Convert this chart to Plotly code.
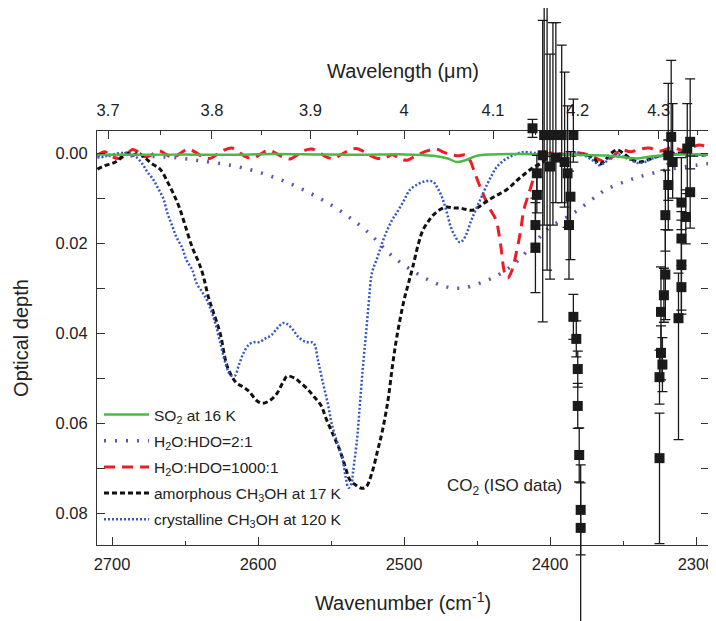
import plotly.graph_objects as go

# ---------------- data ----------------
so2_wn = [2710, 2680, 2650, 2620, 2590, 2560, 2530, 2500, 2480, 2470, 2464, 2458, 2450, 2440, 2420, 2400, 2380, 2360, 2340, 2330, 2310, 2290]
so2_od = [0.0003, 0.0004, 0.0003, 0.0004, 0.0002, 0.0003, 0.0004, 0.0003, 0.0006, 0.0012, 0.0020, 0.0016, 0.0006, 0.0003, 0.0002, 0.0003, 0.0004, 0.0006, 0.0012, 0.0007, 0.0003, 0.0004]

hdo21_wn = [2710, 2690, 2670, 2657, 2640, 2619, 2600, 2581, 2562, 2543, 2525, 2508, 2493, 2480, 2470, 2460, 2447, 2435, 2424, 2412, 2401, 2384, 2372, 2362, 2350, 2339, 2321, 2300, 2290]
hdo21_od = [0.0005, 0.0006, 0.0008, 0.0010, 0.0017, 0.0027, 0.0042, 0.0064, 0.0093, 0.0130, 0.0175, 0.0229, 0.0264, 0.0287, 0.0298, 0.0300, 0.0288, 0.0270, 0.0245, 0.0205, 0.0167, 0.0134, 0.0105, 0.0082, 0.0065, 0.0053, 0.0038, 0.0027, 0.0023]

hdo1000_wn = [2710, 2705, 2700, 2695, 2690, 2686, 2682, 2678, 2673, 2668, 2663, 2658, 2653, 2648, 2643, 2638, 2633, 2628, 2623, 2618,
              2613, 2608, 2603, 2598, 2593, 2588, 2583, 2578, 2573, 2568, 2563, 2558, 2553, 2548, 2543, 2538, 2533, 2528, 2523, 2518,
              2513, 2508, 2503, 2498, 2493, 2488, 2483, 2478, 2473, 2468, 2463, 2458, 2455, 2451, 2446, 2441, 2437, 2434, 2431, 2429,
              2426, 2423, 2420, 2418, 2414, 2411, 2408, 2405, 2400, 2390, 2380, 2372, 2366, 2362, 2357, 2351, 2345, 2338, 2332, 2325,
              2316, 2308, 2298, 2290]
hdo1000_od = [0.0005, -0.0003, 0.0008, 0.0012, 0.0003, -0.0008, -0.0002, 0.0008, 0.0004, -0.0005, 0.0003, 0.0010, 0.0000, -0.0009, -0.0002, 0.0008, 0.0012, 0.0003, -0.0007, -0.0011,
              -0.0002, 0.0009, 0.0011, 0.0002, -0.0006, 0.0000, 0.0009, 0.0013, 0.0004, -0.0006, -0.0009, -0.0001, 0.0009, 0.0012, 0.0003, -0.0005, -0.0010, -0.0004, 0.0006, 0.0012,
              0.0011, 0.0004, 0.0012, 0.0016, 0.0008, 0.0000, -0.0006, -0.0009, -0.0002, 0.0003, 0.0006, 0.0004, 0.0015, 0.0049, 0.0090, 0.0125, 0.0149, 0.0200, 0.0267, 0.0278,
              0.0260, 0.0220, 0.0170, 0.0127, 0.0085, 0.0053, 0.0025, 0.0010, 0.0000, 0.0003, 0.0000, 0.0006, 0.0015, 0.0020, 0.0008, -0.0007, -0.0003, -0.0009, -0.0011, -0.0004,
              -0.0012, -0.0005, -0.0018, -0.0010]

amor_wn = [2710, 2705, 2699, 2695, 2690, 2686, 2682, 2677, 2673, 2667, 2662, 2658, 2654, 2650, 2645, 2641, 2638, 2634, 2631, 2626,
           2621, 2615, 2610, 2606, 2601, 2597, 2592, 2587, 2583, 2580, 2575, 2571, 2566, 2562, 2557, 2553, 2548, 2544, 2540, 2537,
           2533, 2529, 2526, 2522, 2518, 2515, 2511, 2508, 2505, 2500, 2497, 2494, 2490, 2487, 2483, 2480, 2475, 2471, 2466, 2462,
           2458, 2453, 2448, 2442, 2436, 2430, 2425, 2421, 2416, 2412, 2405, 2400, 2395, 2385, 2375, 2370, 2366, 2362, 2358, 2354,
           2350, 2345, 2339, 2333, 2327, 2320, 2310, 2300, 2290]
amor_od = [0.0036, 0.0028, 0.0022, 0.0014, 0.0000, 0.0005, 0.0000, 0.0012, 0.0023, 0.0036, 0.0064, 0.0090, 0.0120, 0.0160, 0.0210, 0.0240, 0.0267, 0.0320, 0.0350, 0.0400,
           0.0475, 0.0510, 0.0520, 0.0530, 0.0550, 0.0556, 0.0550, 0.0534, 0.0510, 0.0496, 0.0500, 0.0510, 0.0525, 0.0540, 0.0560, 0.0593, 0.0630, 0.0660, 0.0700, 0.0727,
           0.0738, 0.0745, 0.0742, 0.0711, 0.0660, 0.0620, 0.0550, 0.0475, 0.0410, 0.0327, 0.0290, 0.0253, 0.0200, 0.0171, 0.0150, 0.0138, 0.0125, 0.0120, 0.0122, 0.0122,
           0.0125, 0.0127, 0.0118, 0.0104, 0.0093, 0.0082, 0.0068, 0.0056, 0.0043, 0.0033, 0.0020, 0.0005, 0.0003, 0.0005, 0.0004, 0.0012, 0.0025, 0.0015, 0.0000, -0.0007,
           0.0000, 0.0012, 0.0020, 0.0015, 0.0008, 0.0003, 0.0000, 0.0005, 0.0003]

cryst_wn = [2710, 2705, 2700, 2692, 2687, 2683, 2679, 2676, 2672, 2669, 2665, 2662, 2659, 2656, 2652, 2649, 2645, 2642, 2638, 2635,
            2630, 2626, 2622, 2619, 2616, 2613, 2610, 2606, 2602, 2599, 2595, 2591, 2587, 2583, 2580, 2576, 2572, 2567, 2562, 2559,
            2556, 2552, 2549, 2545, 2542, 2540, 2538, 2536, 2535, 2532, 2530, 2528, 2526, 2524, 2522, 2518, 2515, 2512, 2508, 2505,
            2500, 2496, 2491, 2487, 2483, 2480, 2477, 2474, 2471, 2468, 2465, 2462, 2460, 2457, 2454, 2451, 2447, 2444, 2440, 2437,
            2433, 2428, 2423, 2419, 2410, 2400, 2390, 2380, 2375, 2370, 2366, 2362, 2358, 2354, 2350, 2345, 2340, 2335, 2330, 2320,
            2310, 2300, 2290]
cryst_od = [0.0010, 0.0008, 0.0003, 0.0000, 0.0003, 0.0010, 0.0025, 0.0041, 0.0058, 0.0075, 0.0100, 0.0134, 0.0160, 0.0186, 0.0210, 0.0238, 0.0260, 0.0290, 0.0310, 0.0327,
            0.0370, 0.0420, 0.0470, 0.0493, 0.0495, 0.0470, 0.0445, 0.0425, 0.0420, 0.0420, 0.0412, 0.0405, 0.0390, 0.0378, 0.0380, 0.0393, 0.0410, 0.0420, 0.0422, 0.0460,
            0.0504, 0.0560, 0.0609, 0.0650, 0.0682, 0.0720, 0.0744, 0.0735, 0.0711, 0.0630, 0.0549, 0.0470, 0.0400, 0.0327, 0.0267, 0.0230, 0.0200, 0.0175, 0.0148, 0.0133,
            0.0105, 0.0082, 0.0070, 0.0064, 0.0062, 0.0064, 0.0078, 0.0098, 0.0128, 0.0164, 0.0185, 0.0198, 0.0195, 0.0178, 0.0150, 0.0127, 0.0098, 0.0076, 0.0050, 0.0033,
            0.0020, 0.0009, 0.0002, -0.0002, 0.0000, 0.0003, 0.0002, 0.0000, 0.0008, 0.0018, 0.0027, 0.0020, 0.0008, 0.0002, 0.0008, 0.0015, 0.0022, 0.0020, 0.0012, 0.0005,
            0.0002, 0.0004, 0.0003]

# CO2 (ISO data) with asymmetric error bars (plus = larger optical depth)
co2_wn = [2412, 2410, 2410, 2409, 2409, 2405, 2404, 2402, 2400, 2398, 2396, 2392, 2390, 2388, 2386, 2387, 2384, 2384, 2382, 2381, 2381, 2380, 2379, 2379,
          2317, 2304, 2319, 2316, 2306, 2319, 2304, 2310, 2321, 2307, 2310, 2310, 2321, 2310, 2322, 2324, 2312, 2324, 2323, 2325, 2325]
co2_od = [-0.0055, 0.0210, 0.0160, 0.0093, 0.0045, 0.0005, -0.0040, -0.0040, 0.0030, -0.0040, 0.0010, -0.0040, 0.0020, 0.0045, 0.0097, 0.0160, -0.0040, 0.0364, 0.0413, 0.0480, 0.0562, 0.0671, 0.0793, 0.0833,
          -0.0036, -0.0025, 0.0005, 0.0020, -0.0010, 0.0071, 0.0087, 0.0110, 0.0138, 0.0142, 0.0190, 0.0249, 0.0270, 0.0298, 0.0316, 0.0353, 0.0367, 0.0444, 0.0470, 0.0498, 0.0678]
co2_err_plus = [0.002, 0.010, 0.006, 0.004, 0.004, 0.037, 0.020, 0.030, 0.025, 0.020, 0.010, 0.015, 0.010, 0.012, 0.014, 0.012, 0.006, 0.005, 0.004, 0.004, 0.005, 0.006, 0.010, 0.025,
                0.006, 0.006, 0.010, 0.008, 0.010, 0.010, 0.008, 0.006, 0.008, 0.006, 0.006, 0.010, 0.010, 0.006, 0.006, 0.010, 0.027, 0.006, 0.006, 0.006, 0.019]
co2_err_minus = [0.002, 0.010, 0.006, 0.004, 0.004, 0.030, 0.033, 0.030, 0.025, 0.025, 0.030, 0.020, 0.020, 0.015, 0.010, 0.012, 0.008, 0.005, 0.004, 0.004, 0.005, 0.006, 0.010, 0.010,
                 0.017, 0.014, 0.016, 0.013, 0.010, 0.010, 0.008, 0.010, 0.010, 0.006, 0.006, 0.010, 0.010, 0.006, 0.006, 0.010, 0.010, 0.006, 0.006, 0.006, 0.010]

wl_ticks = [3.7, 3.8, 3.9, 4.0, 4.1, 4.2, 4.3]
wl_tick_text = ["3.7", "3.8", "3.9", "4", "4.1", "4.2", "4.3"]
wl_minor = [3.65, 3.75, 3.85, 3.95, 4.05, 4.15, 4.25, 4.35]

# ---------------- layout geometry (pixels, page has an 8px body margin) ----------------
OFF = 8
W, H = 716 - OFF, 621 - OFF
PL, PR, PT, PB = 97 - OFF, 709 - OFF, 131 - OFF, 545 - OFF
X_RANGE = [2710.3, 2291.1]
Y_RANGE = [0.0871, -0.0049]
# full-height helper axis with the same scale, so error bars can run past the frame
per_px = (Y_RANGE[0] - Y_RANGE[1]) / (PB - PT)
Y_FULL = [Y_RANGE[0] + (H - PB) * per_px, Y_RANGE[1] - PT * per_px]

FONT = "Liberation Sans, Arial, sans-serif"
fig = go.Figure()

fig.add_trace(go.Scatter(x=hdo21_wn, y=hdo21_od, mode="lines", name="H<sub>2</sub>O:HDO=2:1",
                         line=dict(color="#6a4fb0", width=3.5, dash="2px,9px", shape="spline"),
                         legendrank=2, legendgroup="b"))
fig.add_trace(go.Scatter(x=hdo1000_wn, y=hdo1000_od, mode="lines", name="H<sub>2</sub>O:HDO=1000:1",
                         line=dict(color="#ee1c25", width=3, dash="11px,7px", shape="spline"),
                         legendrank=3, legendgroup="c"))
fig.add_trace(go.Scatter(x=amor_wn, y=amor_od, mode="lines", name="amorphous CH<sub>3</sub>OH at 17 K",
                         line=dict(color="#111111", width=3, dash="5px,3px", shape="spline"),
                         legendrank=4, legendgroup="d"))
fig.add_trace(go.Scatter(x=cryst_wn, y=cryst_od, mode="lines", name="crystalline CH<sub>3</sub>OH at 120 K",
                         line=dict(color="#3558c0", width=2.5, dash="2px,2px", shape="spline"),
                         legendrank=5, legendgroup="e"))
fig.add_trace(go.Scatter(x=so2_wn, y=so2_od, mode="lines", name="SO<sub>2</sub> at 16 K",
                         line=dict(color="#4cb848", width=2.5, shape="spline"),
                         legendrank=1, legendgroup="a"))
fig.add_trace(go.Scatter(x=co2_wn, y=co2_od, yaxis="y3", mode="markers", showlegend=False,
                         marker=dict(symbol="square", size=10, color="#1a1a1a"),
                         error_y=dict(type="data", symmetric=False, array=co2_err_plus, arrayminus=co2_err_minus,
                                      color="#1a1a1a", thickness=1.3, width=5),
                         cliponaxis=False))
# invisible helper on the top axis so it is drawn
fig.add_trace(go.Scatter(x=so2_wn, y=so2_od, xaxis="x2", mode="lines", showlegend=False,
                         line=dict(width=0), hoverinfo="skip", opacity=0))

fig.add_annotation(x=2431, y=0.0742, xref="x", yref="y", text="CO<sub>2</sub> (ISO data)",
                   showarrow=False, font=dict(family=FONT, size=17, color="#222"))

axis_common = dict(showline=True, linecolor="#333", linewidth=1.2, ticks="inside", ticklen=8,
                   tickwidth=1.2, tickcolor="#333", showgrid=False, zeroline=False, automargin=False,
                   tickfont=dict(family=FONT, size=16.5, color="#222"))

x_dom = [PL / W, PR / W]
y_dom = [1 - PB / H, 1 - PT / H]

fig.update_layout(
    width=W, height=H,
    margin=dict(l=0, r=0, t=0, b=0),
    paper_bgcolor="white", plot_bgcolor="rgba(0,0,0,0)",
    showlegend=True,
    legend=dict(x=(99 - OFF) / W, y=1 - (398 - OFF) / H, xanchor="left", yanchor="top", bgcolor="rgba(0,0,0,0)",
                font=dict(family=FONT, size=15.5, color="#222"), tracegroupgap=3,
                itemwidth=45, traceorder="grouped"),
    xaxis=dict(domain=x_dom, anchor="y", range=X_RANGE, dtick=100, tick0=2300, mirror=True,
               ticklabelstandoff=4,
               minor=dict(dtick=50, ticks="inside", ticklen=4, tickcolor="#333"),
               title=dict(text="Wavenumber (cm<sup>-1</sup>)", font=dict(family=FONT, size=20, color="#222"), standoff=24),
               **axis_common),
    xaxis2=dict(overlaying="x", side="top", anchor="y", range=X_RANGE, tickmode="array",
                tickvals=[1e4 / v for v in wl_ticks], ticktext=wl_tick_text, ticklabelstandoff=7,
                minor=dict(tickmode="array", tickvals=[1e4 / v for v in wl_minor], ticks="inside", ticklen=4, tickcolor="#333"),
                title=dict(text="Wavelength (\u03bcm)", font=dict(family=FONT, size=20, color="#222"), standoff=17),
                **axis_common),
    yaxis=dict(domain=y_dom, anchor="x", range=Y_RANGE, dtick=0.02, tick0=0, tickformat=".2f", mirror="allticks",
               ticklabelstandoff=5,
               minor=dict(dtick=0.01, ticks="inside", ticklen=4, tickcolor="#333"),
               title=dict(text="Optical depth", font=dict(family=FONT, size=20, color="#222"), standoff=21),
               **axis_common),
    yaxis3=dict(domain=[0, 1], anchor="x", range=Y_FULL, visible=False, showgrid=False, zeroline=False),
)

fig.write_html("out.html")
